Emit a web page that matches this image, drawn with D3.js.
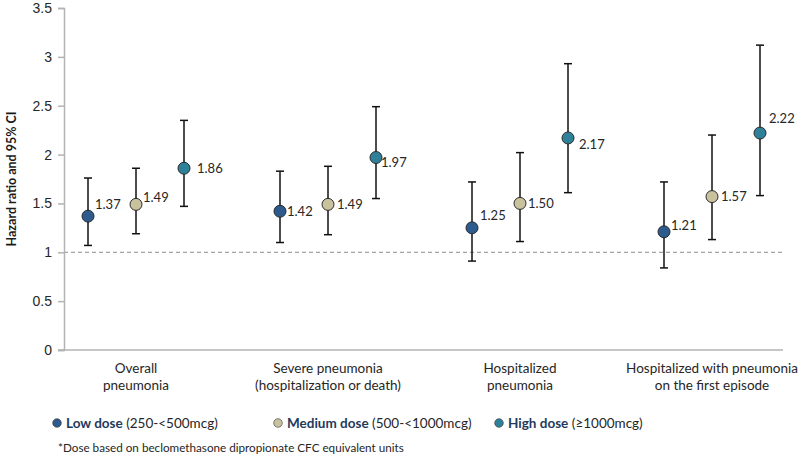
<!DOCTYPE html>
<html>
<head>
<meta charset="utf-8">
<script src="https://cdn.jsdelivr.net/npm/d3@7"></script>
<style>
  html, body { margin: 0; padding: 0; background: #fff; }
  svg { display: block; font-family: Lato, "Open Sans", sans-serif; }
</style>
</head>
<body>
<svg id="chart" width="799" height="461"></svg>
<script>
// ---- data ----
const categories = [
  ["Overall", "pneumonia"],
  ["Severe pneumonia", "(hospitalization or death)"],
  ["Hospitalized", "pneumonia"],
  ["Hospitalized with pneumonia", "on the first episode"]
];
const doses = ["Low dose", "Medium dose", "High dose"];
const doseNotes = ["(250-<500mcg)", "(500-<1000mcg)", "(≥1000mcg)"];
const lowHR   = [1.37, 1.42, 1.25, 1.21];
const lowLo   = [1.07, 1.10, 0.91, 0.84];
const lowHi   = [1.76, 1.83, 1.72, 1.72];
const medHR   = [1.49, 1.49, 1.50, 1.57];
const medLo   = [1.19, 1.18, 1.11, 1.13];
const medHi   = [1.86, 1.88, 2.02, 2.20];
const highHR  = [1.86, 1.97, 2.17, 2.22];
const highLo  = [1.47, 1.55, 1.61, 1.58];
const highHi  = [2.35, 2.49, 2.93, 3.12];
const hrLabels = [
  ["1.37", "1.42", "1.25", "1.21"],
  ["1.49", "1.49", "1.50", "1.57"],
  ["1.86", "1.97", "2.17", "2.22"]
];
const yTicks = [0, 0.5, 1, 1.5, 2, 2.5, 3, 3.5];
const footnote = "*Dose based on beclomethasone dipropionate CFC equivalent units";
const yTitle = "Hazard ratio and 95% CI";

// ---- styles / layout ----
const colors = ["#2E5B8E", "#C9C29F", "#2F8099"];
// label offsets (dx, dy of text centre relative to point) per dose x category
const labelOff = [
  [[7, -12], [7, 0], [8, -12], [7, -6]],
  [[7, -7], [9, 0], [8, 0], [9, 0]],
  [[13, 0], [5, 5], [11, 6], [9, -15]]
];

const svg = d3.select("#chart");
const plot = { left: 64, right: 783, top: 8, bottom: 350 };

const y = d3.scaleLinear().domain([0, 3.5]).range([plot.bottom, plot.top]);
const xCat = d3.scalePoint().domain(d3.range(categories.length)).range([136, 712]);
const xDose = d3.scalePoint().domain(d3.range(doses.length)).range([-48, 48]);

// reference line at 1
svg.append("line")
  .attr("x1", plot.left).attr("x2", plot.right)
  .attr("y1", y(1)).attr("y2", y(1))
  .attr("stroke", "#8c8c8c").attr("stroke-width", 1)
  .attr("stroke-dasharray", "4,3");

// y axis
const yAxis = d3.axisLeft(y).tickValues(yTicks).tickSize(6).tickPadding(6)
  .tickFormat(d => String(d));
const gy = svg.append("g").attr("transform", `translate(${plot.left},0)`).call(yAxis);
gy.select(".domain").attr("stroke", "#b3b3b3").attr("stroke-width", 1.5);
gy.selectAll(".tick line").attr("stroke", "#b3b3b3").attr("stroke-width", 1.5);
gy.selectAll(".tick text").attr("fill", "#262626").style("font-size", "14px");

// x axis line
svg.append("line")
  .attr("x1", plot.left - 6).attr("x2", plot.right)
  .attr("y1", plot.bottom).attr("y2", plot.bottom)
  .attr("stroke", "#b3b3b3").attr("stroke-width", 1.5);

// y title
svg.append("text")
  .attr("transform", `translate(12,${(plot.top + plot.bottom) / 2}) rotate(-90)`)
  .attr("text-anchor", "middle")
  .attr("dy", "0.35em")
  .style("font-size", "12.5px").style("font-weight", "bold")
  .attr("fill", "#1a1a1a")
  .text(yTitle);

// category labels
categories.forEach((lines, i) => {
  const t = svg.append("text")
    .attr("text-anchor", "middle")
    .style("font-size", "13.5px").attr("fill", "#262626");
  lines.forEach((ln, j) => {
    t.append("tspan").attr("x", xCat(i)).attr("y", 373 + j * 17).text(ln);
  });
});

// series
const series = [
  { hr: lowHR, lo: lowLo, hi: lowHi },
  { hr: medHR, lo: medLo, hi: medHi },
  { hr: highHR, lo: highLo, hi: highHi }
];
const cap = 4;
series.forEach((s, d) => {
  const g = svg.append("g");
  s.hr.forEach((v, i) => {
    const cx = xCat(i) + xDose(d);
    g.append("line").attr("x1", cx).attr("x2", cx)
      .attr("y1", y(s.lo[i])).attr("y2", y(s.hi[i]))
      .attr("stroke", "#111").attr("stroke-width", 1.5);
    [s.lo[i], s.hi[i]].forEach(e => {
      g.append("line").attr("x1", cx - cap).attr("x2", cx + cap)
        .attr("y1", y(e)).attr("y2", y(e))
        .attr("stroke", "#111").attr("stroke-width", 1.5);
    });
  });
  s.hr.forEach((v, i) => {
    const cx = xCat(i) + xDose(d);
    g.append("circle").attr("cx", cx).attr("cy", y(v)).attr("r", 6)
      .attr("fill", colors[d]).attr("stroke", "#2a2a2a").attr("stroke-width", 1);
    g.append("text")
      .attr("x", cx + labelOff[d][i][0])
      .attr("y", y(v) + labelOff[d][i][1])
      .attr("dy", "0.35em")
      .style("font-size", "13px").attr("fill", "#262626")
      .text(hrLabels[d][i]);
  });
});

// legend
const legendX = [57, 278, 499];
doses.forEach((name, d) => {
  svg.append("circle").attr("cx", legendX[d]).attr("cy", 423).attr("r", 4.3)
    .attr("fill", colors[d]).attr("stroke", "#333").attr("stroke-width", 0.6);
  const t = svg.append("text").attr("x", legendX[d] + 9).attr("y", 423)
    .attr("dy", "0.35em").style("font-size", "13.5px").attr("fill", "#262626");
  t.append("tspan").style("font-weight", "bold").attr("fill", "#1f3b5c").text(name);
  t.append("tspan").text(" " + doseNotes[d]);
});

// footnote
svg.append("text").attr("x", 58).attr("y", 448).attr("dy", "0.35em")
  .style("font-size", "11.7px").attr("fill", "#262626").text(footnote);
</script>
</body>
</html>
